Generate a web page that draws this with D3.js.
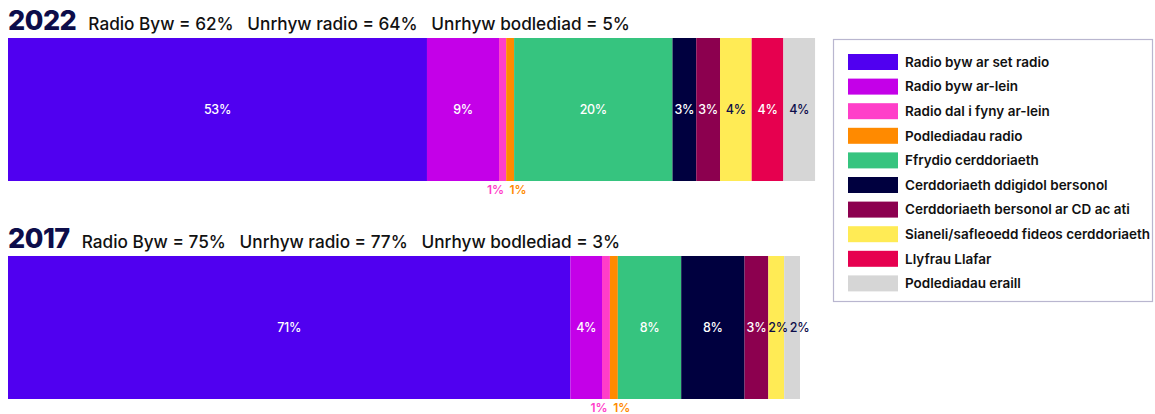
<!DOCTYPE html>
<html>
<head>
<meta charset="utf-8">
<script src="https://cdn.jsdelivr.net/npm/d3@7"></script>
<style>
  body { margin: 0; background: #fff; }
  svg { font-family: Inter, "Noto Sans", sans-serif; }
</style>
</head>
<body>
<svg id="chart" width="1155" height="414"></svg>
<script>
// data
var categories = [
  "Radio byw ar set radio",
  "Radio byw ar-lein",
  "Radio dal i fyny ar-lein",
  "Podlediadau radio",
  "Ffrydio cerddoriaeth",
  "Cerddoriaeth ddigidol bersonol",
  "Cerddoriaeth bersonol ar CD ac ati",
  "Sianeli/safleoedd fideos cerddoriaeth",
  "Llyfrau Llafar",
  "Podlediadau eraill"
];
var colors = ["#5000f0", "#c400e8", "#ff3ec9", "#ff8a00", "#36c47f",
              "#00003f", "#8c004f", "#ffeb55", "#e6004f", "#d6d6d6"];
var years = ["2022", "2017"];
var values2022 = [52.9, 9.1, 0.9, 1.0, 20.0, 3.0, 3.0, 4.0, 4.0, 4.0];
var values2017 = [71.0, 4.0, 1.0, 1.0, 8.0, 8.0, 3.0, 2.0, 0, 2.0];
var subtitles = [
  "Radio Byw = 62%   Unrhyw radio = 64%   Unrhyw bodlediad = 5%",
  "Radio Byw = 75%   Unrhyw radio = 77%   Unrhyw bodlediad = 3%"
];

var seriesByYear = { "2022": values2022, "2017": values2017 };
var navy = "#0d0d4a";
var darkText = ["#ffeb55", "#d6d6d6"];

var svg = d3.select("#chart");

var x = d3.scaleLinear().domain([0, 100]).range([8, 800]);
var y = d3.scaleBand().domain(years).range([38, 399]).paddingInner(0.344);

years.forEach(function(yr, yi) {
  var vals = seriesByYear[yr];
  var ends = Array.from(d3.cumsum(vals));
  var segs = vals.map(function(v, i) {
    return { v: v, i: i, x0: ends[i] - v, x1: ends[i] };
  }).filter(function(d) { return d.v > 0; });

  var top = y(yr);
  var h = y.bandwidth();

  // title
  var title = svg.append("text")
    .attr("x", 8)
    .attr("y", top - 8)
    .attr("fill", navy);
  title.append("tspan")
    .attr("font-size", 27)
    .attr("font-weight", 800)
    .attr("letter-spacing", -0.5)
    .text(yr);
  title.append("tspan")
    .attr("dx", 12)
    .attr("font-size", 17.2)
    .attr("font-weight", 500)
    .attr("fill", "#111")
    .attr("xml:space", "preserve")
    .style("white-space", "pre")
    .text(subtitles[yi]);

  var g = svg.append("g");

  g.selectAll("rect")
    .data(segs)
    .enter()
    .append("rect")
    .attr("x", function(d) { return x(d.x0); })
    .attr("width", function(d) { return x(d.x1) - x(d.x0); })
    .attr("y", top)
    .attr("height", h)
    .attr("fill", function(d) { return colors[d.i]; });

  // labels inside the big segments
  var inside = g.selectAll("text.inside")
    .data(segs.filter(function(d) { return d.v >= 1.5; }))
    .enter()
    .append("text")
    .attr("class", "inside")
    .attr("y", top + h / 2)
    .attr("dy", "0.35em")
    .attr("font-size", 12.5)
    .attr("font-weight", 500)
    .attr("letter-spacing", -0.3)
    .attr("fill", function(d) {
      return darkText.indexOf(colors[d.i]) >= 0 ? navy : "#fff";
    })
    .text(function(d) { return Math.round(d.v) + "%"; });

  // centre each label, push it right if it runs into the previous one
  var prevEnd = -Infinity;
  inside.each(function(d) {
    var w = this.getComputedTextLength();
    var left = (x(d.x0) + x(d.x1)) / 2 - w / 2;
    if (left < prevEnd + 2) left = prevEnd + 2;
    d3.select(this).attr("x", left);
    prevEnd = left + w;
  });

  // small segments labelled below the bar
  var small = segs.filter(function(d) { return d.v < 1.5; });
  g.selectAll("text.below")
    .data(small)
    .enter()
    .append("text")
    .attr("class", "below")
    .attr("x", function(d, k) {
      return (x(d.x0) + x(d.x1)) / 2 + (k === 0 ? -7 : 8);
    })
    .attr("y", top + h + 13)
    .attr("text-anchor", "middle")
    .attr("font-size", 12)
    .attr("font-weight", 600)
    .attr("fill", function(d) { return colors[d.i]; })
    .text(function(d) { return Math.round(d.v) + "%"; });
});

// legend
var legend = svg.append("g").attr("transform", "translate(833,39)");
legend.append("rect")
  .attr("x", 0.5)
  .attr("y", 0.5)
  .attr("width", 319)
  .attr("height", 262)
  .attr("fill", "#fff")
  .attr("stroke", "#b9b6cf")
  .attr("stroke-width", 1.2);

var ly = d3.scaleBand().domain(categories).range([11, 257]);

var item = legend.selectAll("g.item")
  .data(categories)
  .enter()
  .append("g")
  .attr("class", "item")
  .attr("transform", function(d) { return "translate(0," + ly(d) + ")"; });

item.append("rect")
  .attr("x", 15)
  .attr("y", 4)
  .attr("width", 50)
  .attr("height", 16)
  .attr("fill", function(d, i) { return colors[i]; });

item.append("text")
  .attr("x", 72)
  .attr("y", 12)
  .attr("dy", "0.35em")
  .attr("font-size", 13.5)
  .attr("font-weight", 600)
  .attr("fill", "#111")
  .text(function(d) { return d; });
</script>
</body>
</html>
